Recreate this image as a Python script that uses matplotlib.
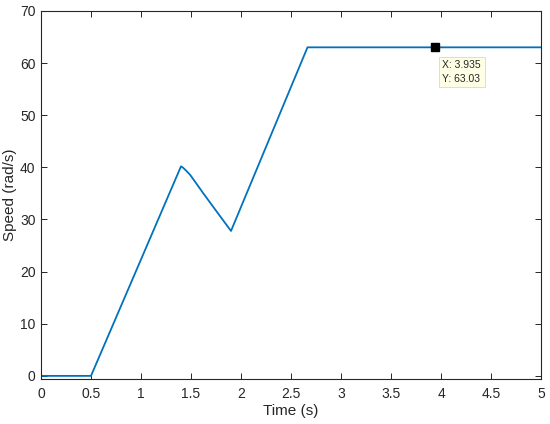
import matplotlib
matplotlib.use("Agg")
import matplotlib.pyplot as plt

time_s = [0.0, 0.5, 1.40, 1.42, 1.45, 1.49, 1.55, 1.62, 1.75, 1.90, 2.665, 5.0]
speed = [0.0, 0.0, 40.2, 39.95, 39.4, 38.6, 37.0, 35.1, 31.7, 27.8, 63.03, 63.03]
tip_x = 3.935
tip_y = 63.03
x_ticks = [0, 0.5, 1, 1.5, 2, 2.5, 3, 3.5, 4, 4.5, 5]
x_tick_labels = ["0", "0.5", "1", "1.5", "2", "2.5", "3", "3.5", "4", "4.5", "5"]
y_ticks = [0, 10, 20, 30, 40, 50, 60, 70]

plt.rcParams['font.family'] = ['Liberation Sans', 'DejaVu Sans']

fig = plt.figure(figsize=(5.5, 4.24), dpi=100)
ax = fig.add_axes([41/550, 1-379/424, 500/550, 368/424])

axis_col = '#262626'
ax.plot(time_s, speed, color='#0072BD', lw=1.3)
ax.plot([tip_x], [tip_y], marker='s', ms=5.5, color='black', ls='none', zorder=5)
ax.annotate(f"X: {tip_x}\nY: {tip_y}", xy=(tip_x, tip_y), xytext=(8, -13),
            textcoords='offset pixels', ha='left', va='top', fontsize=7.5,
            color='#262626', linespacing=1.4,
            bbox=dict(boxstyle='square,pad=0.35', fc='#ffffe6', ec='#d8d8d0', lw=0.6))

ax.set_xlim(0, 5)
ax.set_ylim(-0.6, 70)
ax.set_xticks(x_ticks)
ax.set_xticklabels(x_tick_labels)
ax.set_yticks(y_ticks)
ax.tick_params(direction='in', top=True, right=True, length=4, width=0.7,
               colors=axis_col, labelsize=10)
ax.tick_params(axis='x', pad=6)
ax.tick_params(axis='y', pad=4)
for s in ax.spines.values():
    s.set_color(axis_col)
    s.set_linewidth(0.8)
ax.set_xlabel('Time (s)', fontsize=11, color=axis_col, labelpad=2)
ax.set_ylabel('Speed (rad/s)', fontsize=11, color=axis_col, labelpad=2)

fig.savefig('out.png', dpi=100)
